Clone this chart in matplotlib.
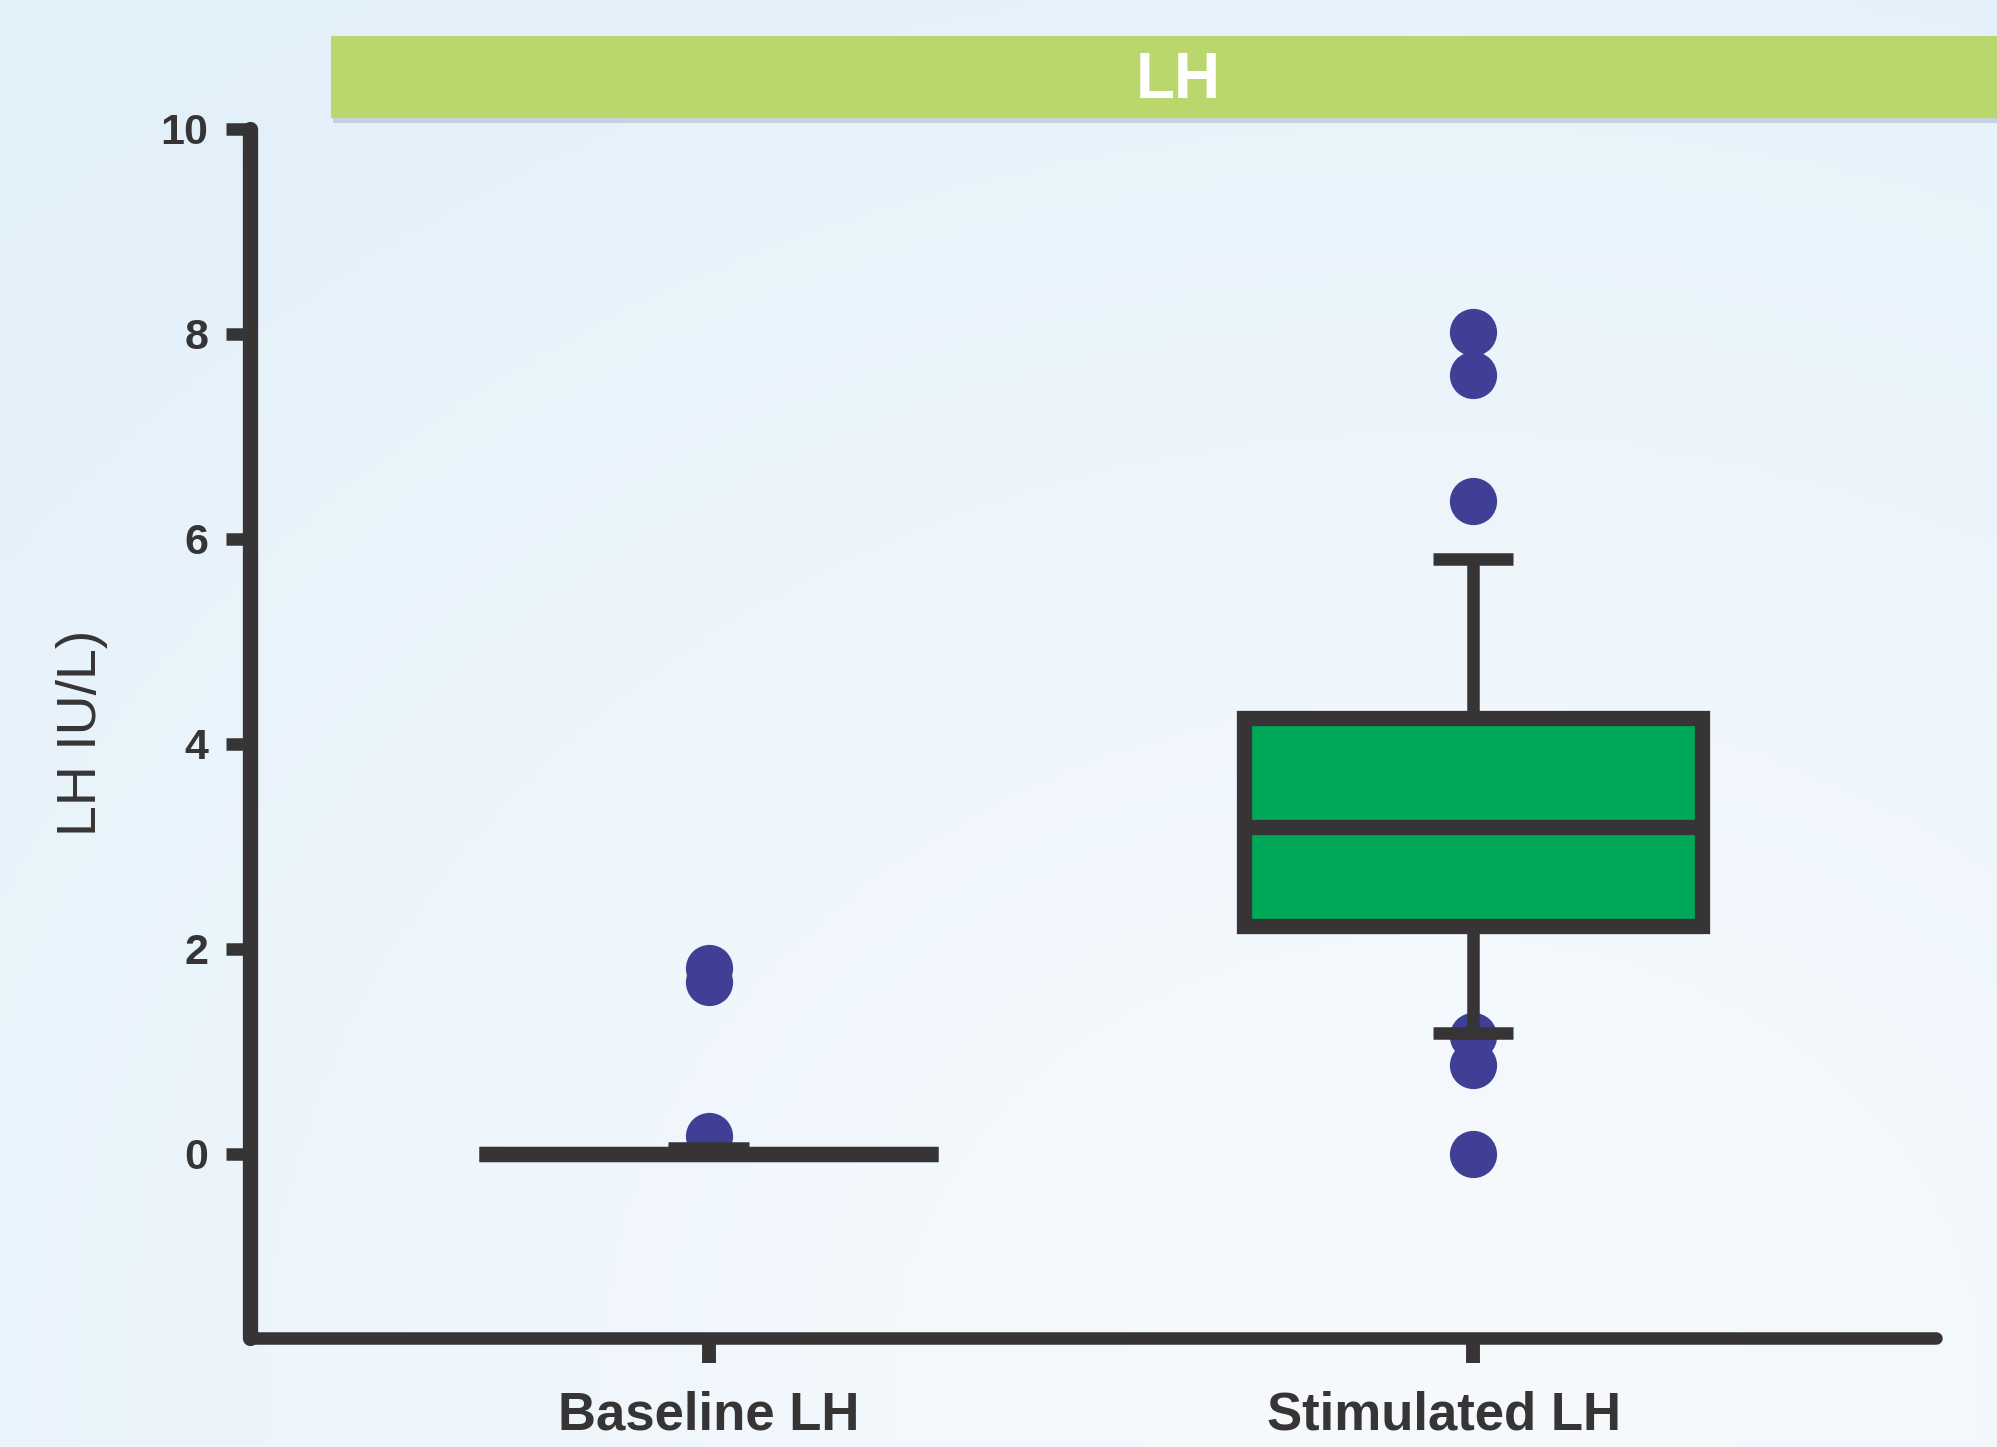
import numpy as np
import matplotlib
matplotlib.use("Agg")
import matplotlib.pyplot as plt
from matplotlib.patches import Rectangle
from matplotlib.transforms import ScaledTranslation

# ---------------- data ----------------
categories = ["Baseline LH", "Stimulated LH"]
q1_vals = [0.0, 2.22]
median_vals = [0.0, 3.19]
q3_vals = [0.0, 4.25]
whisker_low = [0.0, 1.18]
whisker_high = [0.06, 5.80]
outliers_baseline = [1.81, 1.68, 0.18]
outliers_stimulated = [8.02, 7.60, 6.37, 1.15, 0.87, 0.0]
y_ticks = [0, 2, 4, 6, 8, 10]
title_text = "LH"
y_label = "LH IU/L)"

# ---------------- style ----------------
DARK = "#363435"
BOX_FILL = "#00a859"
DOT = "#3e3f95"
BAR = "#b9d76c"

plt.rcParams["font.family"] = ["Liberation Sans", "DejaVu Sans"]

W, H = 1997, 1447
fig = plt.figure(figsize=(W / 100, H / 100), dpi=100)

# background gradient
bg = fig.add_axes([0, 0, 1, 1], zorder=0)
ny, nx = 300, 400
yy, xx = np.mgrid[0:1:ny * 1j, 0:1:nx * 1j]  # yy=0 at top
d = np.sqrt(((xx - 0.72) * 1.0) ** 2 + ((yy - 0.95) * 0.9) ** 2)
t = np.clip(d / 1.05, 0, 1) ** 1.2
c_light = np.array([247, 250, 253]) / 255
c_blue = np.array([226, 240, 250]) / 255
img = c_light[None, None, :] * (1 - t[..., None]) + c_blue[None, None, :] * t[..., None]
bg.imshow(img, extent=[0, 1, 0, 1], aspect="auto", origin="upper")
bg.set_xlim(0, 1)
bg.set_ylim(0, 1)
bg.axis("off")

# title bar with shadow
bar_x0 = 331 / W
bar_y0 = 1 - 118 / H
bar_h = (118 - 36) / H
shadow = Rectangle((bar_x0 + 2 / W, bar_y0 - 5 / H), 1 - bar_x0, bar_h,
                   transform=fig.transFigure, facecolor="#8a9aa5", alpha=0.35,
                   edgecolor="none", zorder=1)
fig.add_artist(shadow)
bar = Rectangle((bar_x0, bar_y0), 1 - bar_x0, bar_h, transform=fig.transFigure,
                facecolor=BAR, edgecolor="none", zorder=2)
fig.add_artist(bar)
fig.text(1178 / W, 1 - 81 / H, title_text, color="white", fontsize=46,
         fontweight="bold", ha="center", va="center", zorder=3,
         family=["Liberation Sans Narrow", "Liberation Sans", "DejaVu Sans"])

# main axes
left_px, right_px = 250, 1936
bottom_px, top_px = 1337.5, 128.6
ax = fig.add_axes([left_px / W, 1 - bottom_px / H,
                   (right_px - left_px) / W, (bottom_px - top_px) / H], zorder=2)
ax.patch.set_alpha(0)

stats = []
fliers_all = [outliers_baseline, outliers_stimulated]
for i, cat in enumerate(categories):
    stats.append(dict(label=cat, q1=q1_vals[i], med=median_vals[i], q3=q3_vals[i],
                      whislo=whisker_low[i], whishi=whisker_high[i],
                      fliers=np.array(fliers_all[i])))

ax.bxp(stats, positions=[0, 1], widths=0.6, capwidths=0.105, patch_artist=True,
       showfliers=True,
       boxprops=dict(facecolor=BOX_FILL, edgecolor=DARK, linewidth=11, zorder=4),
       medianprops=dict(color=DARK, linewidth=11, solid_capstyle="butt", zorder=5),
       whiskerprops=dict(color=DARK, linewidth=9, solid_capstyle="butt", zorder=3),
       capprops=dict(color=DARK, linewidth=9, solid_capstyle="butt", zorder=3),
       flierprops=dict(marker="o", markerfacecolor=DOT, markeredgecolor="none",
                       markersize=34, linestyle="none", zorder=2))

ax.set_xlim(-0.6, 1.606)
ax.set_ylim(-1.79, 10)
ax.set_yticks(y_ticks)
ax.set_yticklabels([str(v) for v in y_ticks])
ax.set_xticks([0, 1])
ax.set_xticklabels(categories)

for s in ["top", "right"]:
    ax.spines[s].set_visible(False)
ax.spines["left"].set_linewidth(11)
ax.spines["bottom"].set_linewidth(9)
for s in ["left", "bottom"]:
    ax.spines[s].set_color(DARK)
    ax.spines[s].set_capstyle("round")

ax.tick_params(axis="y", direction="out", length=17, width=9, color=DARK,
               pad=13, labelsize=31, labelcolor=DARK)
ax.tick_params(axis="x", direction="out", length=18, width=10, color=DARK,
               pad=20, labelsize=38, labelcolor=DARK)
for lab in ax.get_yticklabels() + ax.get_xticklabels():
    lab.set_fontweight("bold")

# the second category label sits slightly left of its tick in the reference
xl = ax.get_xticklabels()
xl[1].set_transform(xl[1].get_transform() + ScaledTranslation(-0.29, 0, fig.dpi_scale_trans))

ax.set_ylabel(y_label, fontsize=40, color=DARK, labelpad=38)

for line in ax.lines:
    line.set_clip_on(False)

fig.savefig("out.png", dpi=100)
